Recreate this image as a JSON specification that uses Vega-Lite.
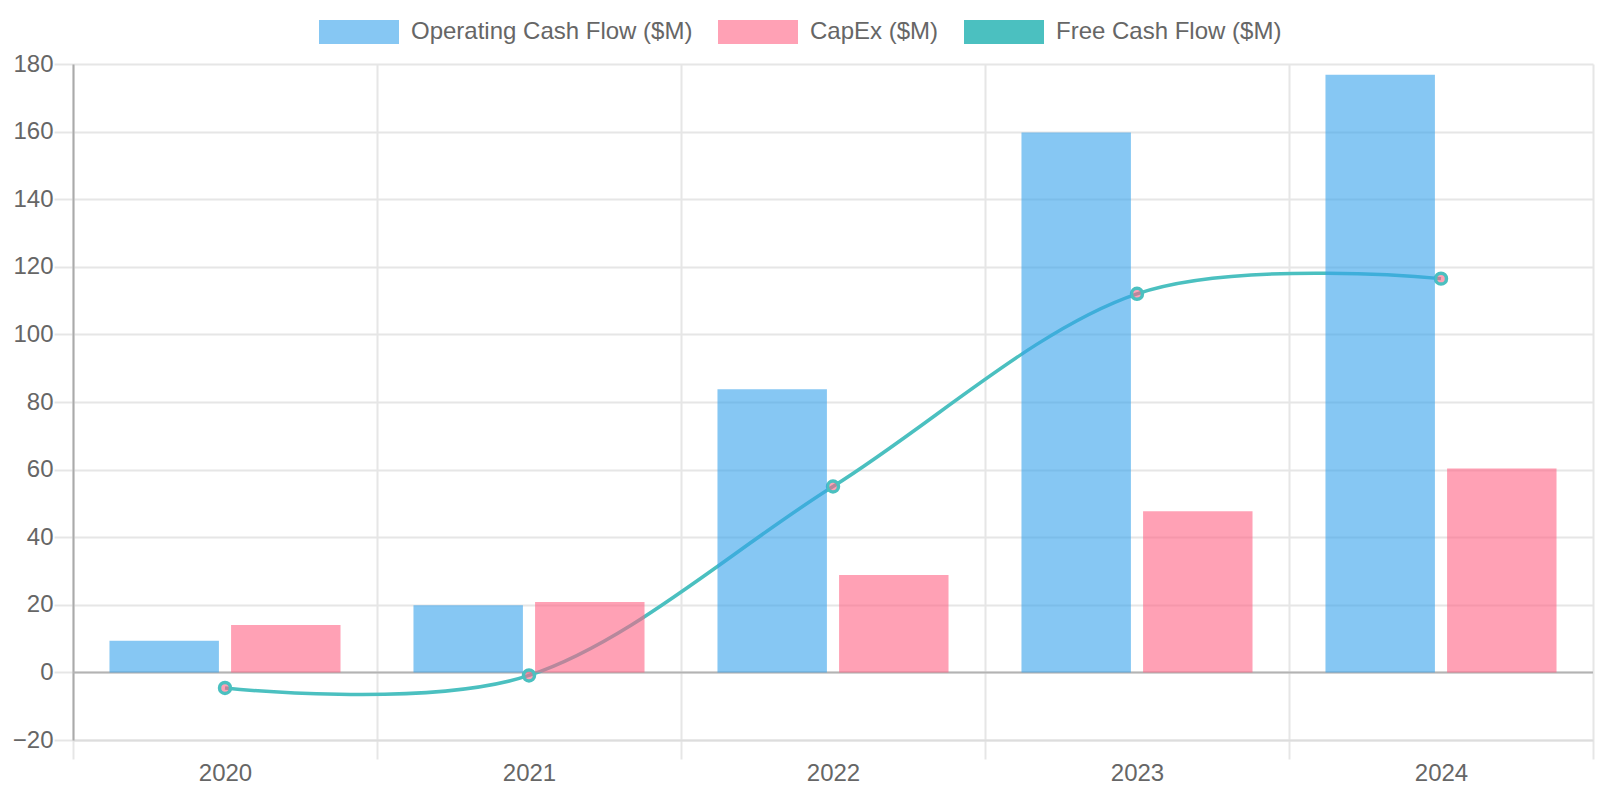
{
  "$schema": "https://vega.github.io/schema/vega-lite/v6.json",
  "width": 1520,
  "height": 676,
  "autosize": {"type": "none"},
  "padding": {"left": 73, "top": 64, "right": 7, "bottom": 60},
  "background": "white",
  "config": {"view": {"stroke": null}, "font": "Liberation Sans"},
  "data": {
    "values": [
      {"year": "2020", "series": "Operating Cash Flow ($M)", "value": 9.4},
      {"year": "2020", "series": "CapEx ($M)", "value": 14.0},
      {"year": "2020", "series": "Free Cash Flow ($M)", "value": -4.6},
      {"year": "2021", "series": "Operating Cash Flow ($M)", "value": 19.9},
      {"year": "2021", "series": "CapEx ($M)", "value": 20.8},
      {"year": "2021", "series": "Free Cash Flow ($M)", "value": -0.9},
      {"year": "2022", "series": "Operating Cash Flow ($M)", "value": 83.8},
      {"year": "2022", "series": "CapEx ($M)", "value": 28.8},
      {"year": "2022", "series": "Free Cash Flow ($M)", "value": 55.0},
      {"year": "2023", "series": "Operating Cash Flow ($M)", "value": 159.7},
      {"year": "2023", "series": "CapEx ($M)", "value": 47.7},
      {"year": "2023", "series": "Free Cash Flow ($M)", "value": 112.0},
      {"year": "2024", "series": "Operating Cash Flow ($M)", "value": 176.8},
      {"year": "2024", "series": "CapEx ($M)", "value": 60.3},
      {"year": "2024", "series": "Free Cash Flow ($M)", "value": 116.5}
    ]
  },
  "layer": [
    {
      "data": {"values": [{"v": 0}]},
      "mark": {"type": "rule", "color": "#b3b3b3", "strokeWidth": 2},
      "encoding": {"y": {"field": "v", "type": "quantitative"}}
    },
    {
      "transform": [{"filter": "datum.series === 'Free Cash Flow ($M)'"}],
      "mark": {"type": "line", "interpolate": "cardinal", "tension": 0, "color": "#4bc0c0", "strokeWidth": 3.5},
      "encoding": {
        "x": {"field": "year", "type": "ordinal"},
        "y": {"field": "value", "type": "quantitative"}
      }
    },
    {
      "transform": [{"filter": "datum.series === 'Free Cash Flow ($M)'"}],
      "mark": {"type": "point", "shape": "circle", "filled": true, "fill": "rgba(255,99,132,0.6)", "stroke": "#4bc0c0", "strokeWidth": 3.5, "size": 120, "opacity": 1},
      "encoding": {
        "x": {"field": "year", "type": "ordinal"},
        "y": {"field": "value", "type": "quantitative"}
      }
    },
    {
      "transform": [{"filter": "datum.series !== 'Free Cash Flow ($M)'"}],
      "mark": {"type": "bar"},
      "encoding": {
        "x": {
          "field": "year",
          "type": "ordinal",
          "scale": {"paddingInner": 0, "paddingOuter": 0},
          "axis": {
            "title": null,
            "tickBand": "extent",
            "labelAngle": 0,
            "labelAlign": "center",
            "labelFontSize": 24,
            "labelColor": "#666",
            "labelFont": "Liberation Sans",
            "labelPadding": 14,
            "tickSize": 19,
            "tickColor": "#e6e6e6",
            "tickWidth": 2,
            "grid": true,
            "gridColor": "#e6e6e6",
            "gridWidth": 2,
            "domainColor": "#dddddd",
            "domainWidth": 2
          }
        },
        "xOffset": {
          "field": "series",
          "type": "nominal",
          "scale": {"domain": ["Operating Cash Flow ($M)", "CapEx ($M)"], "paddingInner": 0.1, "paddingOuter": 0.3}
        },
        "y": {
          "field": "value",
          "type": "quantitative",
          "scale": {"domain": [-20, 180], "nice": false, "zero": false},
          "axis": {
            "title": null,
            "values": [-20, 0, 20, 40, 60, 80, 100, 120, 140, 160, 180],
            "labelFontSize": 24,
            "labelColor": "#666",
            "labelFont": "Liberation Sans",
            "labelPadding": 1,
            "tickSize": 19,
            "tickColor": "#e6e6e6",
            "tickWidth": 2,
            "grid": true,
            "gridColor": "#e6e6e6",
            "gridWidth": 2,
            "domainColor": "#aaaaaa",
            "domainWidth": 2
          }
        },
        "color": {
          "field": "series",
          "type": "nominal",
          "scale": {
            "domain": ["Operating Cash Flow ($M)", "CapEx ($M)", "Free Cash Flow ($M)"],
            "range": ["rgba(54,162,235,0.6)", "rgba(255,99,132,0.6)", "#4bc0c0"]
          },
          "legend": {
            "orient": "none",
            "legendX": 246,
            "legendY": -72,
            "direction": "horizontal",
            "title": null,
            "symbolType": "M-1,-0.3H1V0.3H-1Z",
            "symbolSize": 6400,
            "symbolStrokeWidth": 0,
            "symbolOpacity": 1,
            "labelFontSize": 24,
            "labelColor": "#666",
            "labelFont": "Liberation Sans",
            "labelLimit": 0,
            "labelOffset": 12,
            "columnPadding": 25,
            "padding": 0
          }
        }
      }
    }
  ]
}
